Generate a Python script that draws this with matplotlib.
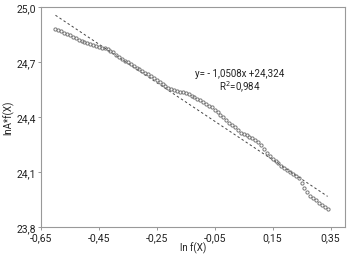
import numpy as np
import matplotlib.pyplot as plt

# ln f(X) vs lnA*f(X)
ln_f = [-0.60, -0.59, -0.58, -0.57, -0.56, -0.55, -0.54, -0.53, -0.52, -0.51,
        -0.50, -0.49, -0.48, -0.47, -0.46, -0.45, -0.44, -0.43, -0.42, -0.41,
        -0.40, -0.39, -0.38, -0.37, -0.36, -0.35, -0.34, -0.33, -0.32, -0.31,
        -0.30, -0.29, -0.28, -0.27, -0.26, -0.25, -0.24, -0.23, -0.22, -0.21,
        -0.20, -0.19, -0.18, -0.17, -0.16, -0.15, -0.14, -0.13, -0.12, -0.11,
        -0.10, -0.09, -0.08, -0.07, -0.06, -0.05, -0.04, -0.03, -0.02, -0.01,
        0.00, 0.01, 0.02, 0.03, 0.04, 0.05, 0.06, 0.07, 0.08, 0.09,
        0.10, 0.11, 0.12, 0.13, 0.14, 0.15, 0.16, 0.17, 0.18, 0.19,
        0.20, 0.21, 0.22, 0.23, 0.24, 0.25, 0.26, 0.27, 0.28, 0.29,
        0.30, 0.31, 0.32, 0.33, 0.34]
ln_af = [24.882, 24.875, 24.868, 24.860, 24.852, 24.845, 24.838, 24.830, 24.822, 24.815,
         24.808, 24.802, 24.797, 24.791, 24.785, 24.781, 24.778, 24.775, 24.770, 24.762,
         24.752, 24.740, 24.728, 24.716, 24.705, 24.697, 24.688, 24.678, 24.668, 24.660,
         24.652, 24.642, 24.632, 24.622, 24.612, 24.601, 24.590, 24.579, 24.568, 24.558,
         24.550, 24.545, 24.540, 24.537, 24.534, 24.530, 24.524, 24.516, 24.508, 24.499,
         24.490, 24.480, 24.470, 24.461, 24.452, 24.439, 24.425, 24.413, 24.400, 24.383,
         24.365, 24.354, 24.343, 24.328, 24.315, 24.307, 24.300, 24.292, 24.284, 24.275,
         24.263, 24.245, 24.225, 24.205, 24.187, 24.173, 24.160, 24.148, 24.135, 24.122,
         24.110, 24.100, 24.090, 24.080, 24.068, 24.040, 24.010, 23.988, 23.970, 23.957,
         23.945, 23.932, 23.920, 23.910, 23.900]

slope, intercept = -1.0508, 24.324
fit_x = [-0.60, 0.34]

x_ticks = [-0.65, -0.45, -0.25, -0.05, 0.15, 0.35]
x_labels = ['-0,65', '-0,45', '-0,25', '-0,05', '0,15', '0,35']
y_ticks = [23.8, 24.1, 24.4, 24.7, 25.0]
y_labels = ['23,8', '24,1', '24,4', '24,7', '25,0']

plt.rcParams['font.family'] = ['Roboto', 'DejaVu Sans']

fig = plt.figure(figsize=(3.49, 2.55), dpi=100)
ax = fig.add_axes([0.1175, 0.106, 0.871, 0.863])

fx = np.array(fit_x)
ax.plot(fx, slope * fx + intercept, color='#444444', lw=0.7, ls=(0, (2.5, 2.5)))
ax.plot(ln_f, ln_af, 'o', mfc='none', mec='#777777', ms=2.3, mew=0.7)

ax.set_xlim(-0.65, 0.40)
ax.set_ylim(23.8, 25.0)
ax.set_xticks(x_ticks)
ax.set_xticklabels(x_labels)
ax.set_yticks(y_ticks)
ax.set_yticklabels(y_labels)
ax.tick_params(labelsize=7.5, length=2.5, width=0.6, color='#888888', pad=1, labelcolor='#222222')

for s in ax.spines.values():
    s.set_color('#999999')
    s.set_linewidth(0.8)

ax.text(0.036, 24.64, 'y= - 1,0508x +24,324', fontsize=7, ha='center', va='center', color='#222222')
ax.text(0.036, 24.565, 'R$^2$=0,984', fontsize=7, ha='center', va='center', color='#222222')

ax.set_xlabel('ln f(X)', fontsize=7, labelpad=0, color='#222222')
ax.set_ylabel('lnA*f(X)', fontsize=7, labelpad=2, color='#222222')

fig.savefig('out.png', dpi=100)
